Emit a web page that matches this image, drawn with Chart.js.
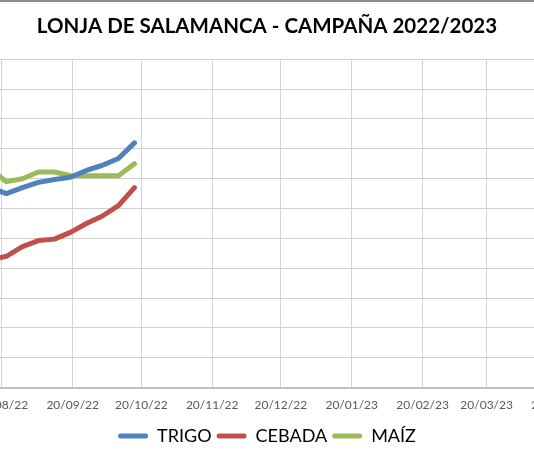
<!DOCTYPE html>
<html>
<head>
<meta charset="utf-8">
<script src="https://cdn.jsdelivr.net/npm/chart.js@4"></script>
<style>
  html, body { margin: 0; padding: 0; background: #fff; overflow: hidden; }
  #wrap { width: 534px; height: 460px; border-top: 2px solid #8c8c8c; }
</style>
</head>
<body>
<div id="wrap"><canvas id="lonja" width="534" height="460"></canvas></div>
<script>
// Weekly session dates and prices (€/t)
const fechas = ['15/08/22', '22/08/22', '29/08/22', '05/09/22', '12/09/22', '19/09/22', '26/09/22', '03/10/22', '10/10/22', '17/10/22'];
const trigo  = [334, 330, 334, 337.5, 339.5, 341, 345.5, 349, 353.5, 364];
const cebada = [285.5, 288, 294.5, 298.5, 299.5, 304, 310, 315, 322, 334];
const maiz   = [346.5, 338, 340, 344.5, 344.5, 342, 342, 342, 342, 350];

// Monthly tick labels on the date axis
const tickLabels = ['20/08/22', '20/09/22', '20/10/22', '20/11/22', '20/12/22', '20/01/23', '20/02/23', '20/03/23', '20/04/23'];

const yMin = 200, yMax = 420, yStep = 20;

// Days counted from 20/08/22
const BASE = Date.UTC(2022, 7, 20);
function dayOf(s) {
    const [d, m, y] = s.split('/').map(Number);
    return (Date.UTC(2000 + y, m - 1, d) - BASE) / 86400000;
}
const tickDays = tickLabels.map(dayOf);

function toPoints(values) {
    return fechas.map((f, i) => ({ x: dayOf(f), y: values[i] }));
}

function serie(label, values, color) {
    return {
        label,
        data: toPoints(values),
        borderColor: color,
        backgroundColor: color,
        borderWidth: 5,
        borderCapStyle: 'round',
        borderJoinStyle: 'round',
        pointRadius: 0,
        tension: 0
    };
}

new Chart(document.getElementById('lonja'), {
    type: 'line',
    data: {
        datasets: [
            serie('TRIGO', trigo, '#4F81BD'),
            serie('CEBADA', cebada, '#C0504D'),
            serie('MAÍZ', maiz, '#9BBB59')
        ]
    },
    options: {
        responsive: false,
        animation: false,
        layout: { padding: { top: 0, left: 0, right: 0, bottom: 7 } },
        plugins: {
            title: {
                display: true,
                text: 'LONJA DE SALAMANCA - CAMPAÑA 2022/2023',
                color: '#000',
                font: { family: 'Lato', size: 20.5, weight: 'bold' },
                padding: { top: 11.7, bottom: 21 }
            },
            legend: {
                position: 'bottom',
                labels: {
                    color: '#000',
                    font: { family: 'Lato', size: 18 },
                    boxWidth: 30,
                    boxHeight: 5,
                    padding: 5,
                    useBorderRadius: true,
                    borderRadius: 2.5,
                    generateLabels(chart) {
                        const items = Chart.defaults.plugins.legend.labels.generateLabels(chart);
                        items.forEach(it => {
                            it.lineWidth = 0;
                            it.strokeStyle = 'rgba(0,0,0,0)';
                            it.borderRadius = 2.5;
                        });
                        return items;
                    }
                }
            },
            tooltip: { enabled: false }
        },
        scales: {
            x: {
                type: 'linear',
                min: -0.79,
                max: 232.7,
                afterBuildTicks(scale) {
                    scale.ticks = tickDays.map(v => ({ value: v }));
                },
                afterFit(scale) {
                    scale.paddingLeft = 0;
                    scale.paddingRight = 0;
                },
                ticks: {
                    autoSkip: false,
                    maxRotation: 0,
                    minRotation: 0,
                    padding: 10,
                    color: '#595959',
                    font: { family: 'Lato', size: 12 },
                    callback: (value, index) => tickLabels[index]
                },
                grid: { color: '#d4d4d4', lineWidth: 1, drawTicks: false },
                border: { display: true, color: '#bfbfbf', width: 2 }
            },
            y: {
                min: yMin,
                max: yMax,
                ticks: { display: false, stepSize: yStep },
                grid: { color: '#cfcfcf', lineWidth: 1, drawTicks: false },
                border: { display: false }
            }
        }
    }
});
</script>
</body>
</html>
